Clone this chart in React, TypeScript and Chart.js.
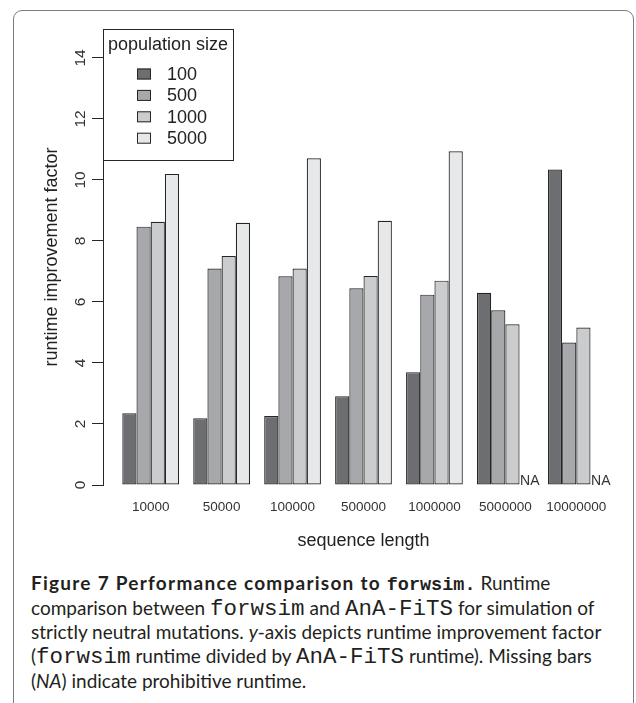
import React, { useEffect, useRef } from "react";
import { Chart, registerables } from "chart.js";

Chart.register(...registerables);

// ---- data ----
const categories = ["10000", "50000", "100000", "500000", "1000000", "5000000", "10000000"];
const seriesLabels = ["100", "500", "1000", "5000"];
const pop100 = [2.35, 2.19, 2.26, 2.91, 3.7, 6.3, 10.34];
const pop500 = [8.47, 7.1, 6.84, 6.45, 6.24, 5.73, 4.67];
const pop1000 = [8.63, 7.51, 7.1, 6.85, 6.7, 5.27, 5.16];
const pop5000: (number | null)[] = [10.2, 8.6, 10.71, 8.66, 10.94, null, null];
const yTicks = [0, 2, 4, 6, 8, 10, 12, 14];
const seriesColors = ["#6d6e71", "#a7a8ab", "#cbcccd", "#e7e8e9"];
const legendTitle = "population size";
const naLabel = "NA";
const xTitle = "sequence length";
const yTitle = "runtime improvement factor";

const FONT = "'Liberation Sans', Arial, Helvetica, sans-serif";
const INK = "#262626";

const legendPlugin = {
  id: "boxLegend",
  afterDraw(chart: any) {
    const { ctx, chartArea } = chart;
    const x0 = chartArea.left;
    const y0 = chartArea.top;
    const w = 130;
    const h = 131;
    ctx.save();
    ctx.fillStyle = "#ffffff";
    ctx.fillRect(x0, y0, w, h);
    ctx.strokeStyle = INK;
    ctx.lineWidth = 1;
    ctx.strokeRect(x0 + 0.5, y0 + 0.5, w, h);
    ctx.fillStyle = "#222";
    ctx.font = `18px ${FONT}`;
    ctx.textAlign = "center";
    ctx.textBaseline = "middle";
    ctx.fillText(legendTitle, x0 + w / 2, y0 + 16);
    chart.data.datasets.forEach((ds: any, i: number) => {
      const cy = y0 + 45 + i * 21.4;
      ctx.fillStyle = ds.backgroundColor;
      ctx.fillRect(x0 + 34, cy - 5.5, 14, 11);
      ctx.strokeStyle = INK;
      ctx.strokeRect(x0 + 34.5, cy - 5, 13, 10);
      ctx.fillStyle = "#222";
      ctx.textAlign = "left";
      ctx.fillText(ds.label, x0 + 64, cy + 1);
    });
    ctx.restore();
  },
};

const naPlugin = {
  id: "naLabels",
  afterDatasetsDraw(chart: any) {
    const { ctx } = chart;
    const meta = chart.getDatasetMeta(2);
    const last = chart.data.datasets[3].data;
    const y0 = chart.scales.y.getPixelForValue(0);
    ctx.save();
    ctx.font = `14px ${FONT}`;
    ctx.fillStyle = "#333";
    ctx.textAlign = "left";
    ctx.textBaseline = "alphabetic";
    last.forEach((p: any, i: number) => {
      if (p.y == null) {
        const el = meta.data[i];
        ctx.fillText(naLabel, el.x + el.width / 2 + 0.5, y0);
      }
    });
    ctx.restore();
  },
};

function ChartCanvas() {
  const ref = useRef<HTMLCanvasElement | null>(null);
  useEffect(() => {
    if (!ref.current) return;
    const seriesValues = [pop100, pop500, pop1000, pop5000];
    const datasets = seriesValues.map((vals, k) => ({
      label: seriesLabels[k],
      data: vals.map((v, i) => ({ x: i + 1, y: v })),
      backgroundColor: seriesColors[k],
      borderColor: INK,
      borderWidth: 1.2,
      borderSkipped: false,
      categoryPercentage: 0.8,
      barPercentage: 1,
    }));
    const chart = new Chart(ref.current, {
      type: "bar",
      data: { datasets } as any,
      options: {
        animation: false,
        responsive: false,
        maintainAspectRatio: false,
        layout: { padding: { left: 0, top: 29, right: 12, bottom: 0 } },
        plugins: {
          legend: { display: false },
          tooltip: { enabled: false },
        },
        scales: {
          x: {
            type: "linear",
            offset: false,
            min: 0.328,
            max: 7.672,
            grid: { display: false, drawTicks: false },
            border: { display: false },
            afterBuildTicks: (s: any) => {
              s.ticks = categories.map((_, i) => ({ value: i + 1 }));
            },
            afterFit: (s: any) => {
              s.height = 75;
              s.paddingLeft = 0;
              s.paddingRight = 0;
            },
            ticks: {
              autoSkip: false,
              maxRotation: 0,
              minRotation: 0,
              padding: 13.9,
              color: "#333",
              font: { family: FONT, size: 13.5 },
              callback: (v: any) => categories[Math.round(Number(v)) - 1] ?? "",
            },
            title: {
              display: true,
              text: xTitle,
              color: "#222",
              font: { family: FONT, size: 18 },
              padding: { top: 0, bottom: 8 },
            },
          },
          y: {
            type: "linear",
            min: 0,
            max: 14.95,
            afterBuildTicks: (s: any) => {
              s.ticks = yTicks.map((v) => ({ value: v }));
            },
            afterFit: (s: any) => {
              s.width = 103;
              s.paddingTop = 0;
              s.paddingBottom = 0;
            },
            grid: {
              drawOnChartArea: false,
              drawTicks: true,
              tickLength: 11,
              color: INK,
              lineWidth: 1,
            },
            border: { display: true, color: INK, width: 1 },
            ticks: {
              autoSkip: false,
              minRotation: 90,
              maxRotation: 90,
              crossAlign: "center",
              padding: 2.8,
              color: "#333",
              font: { family: FONT, size: 15.5 },
              callback: (v: any) => String(v),
            },
            title: {
              display: true,
              text: yTitle,
              color: "#222",
              font: { family: FONT, size: 18 },
              padding: { top: 41, bottom: 0 },
            },
          },
        },
      } as any,
      plugins: [legendPlugin, naPlugin],
    });
    return () => chart.destroy();
  }, []);
  return (
    <canvas
      ref={ref}
      width={636}
      height={560}
      style={{ position: "absolute", left: 0, top: 0, width: 636, height: 560, display: "block" }}
    />
  );
}

const BODY = "Lato, 'Open Sans', sans-serif";
const MONO = "'Liberation Mono', 'DejaVu Sans Mono', monospace";

const mono: React.CSSProperties = { fontFamily: MONO, fontSize: 22.5 };
const monoBold: React.CSSProperties = { fontFamily: MONO, fontSize: 18.5, fontWeight: 700 };
const boldLead: React.CSSProperties = { fontWeight: 700, letterSpacing: 1.25 };

const lineTops = [570, 594.5, 619, 643, 667.5];

export default function App() {
  const lineStyle = (i: number): React.CSSProperties => ({
    position: "absolute",
    left: 31,
    top: lineTops[i],
    whiteSpace: "nowrap",
    lineHeight: "26px",
    fontFamily: BODY,
    fontSize: 19,
    color: "#231f20",
  });
  return (
    <div
      style={{
        position: "absolute",
        left: 0,
        top: 0,
        width: 636,
        height: 703,
        overflow: "hidden",
        background: "#ffffff",
      }}
    >
      <div
        style={{
          position: "absolute",
          left: 13,
          top: 10,
          width: 621,
          height: 760,
          border: "1.5px solid #7d7d7d",
          borderRadius: 9,
          boxSizing: "border-box",
        }}
      />
      <ChartCanvas />
      <div style={lineStyle(0)}>
        <span style={boldLead}>Figure 7 Performance comparison to </span>
        <span style={monoBold}>forwsim.</span> Runtime
      </div>
      <div style={lineStyle(1)}>
        comparison between <span style={mono}>forwsim</span> and <span style={mono}>AnA-FiTS</span> for simulation of
      </div>
      <div style={lineStyle(2)}>
        strictly neutral mutations. <i>y</i>-axis depicts runtime improvement factor
      </div>
      <div style={lineStyle(3)}>
        (<span style={mono}>forwsim</span> runtime divided by <span style={mono}>AnA-FiTS</span> runtime). Missing bars
      </div>
      <div style={lineStyle(4)}>
        (<i>NA</i>) indicate prohibitive runtime.
      </div>
    </div>
  );
}
